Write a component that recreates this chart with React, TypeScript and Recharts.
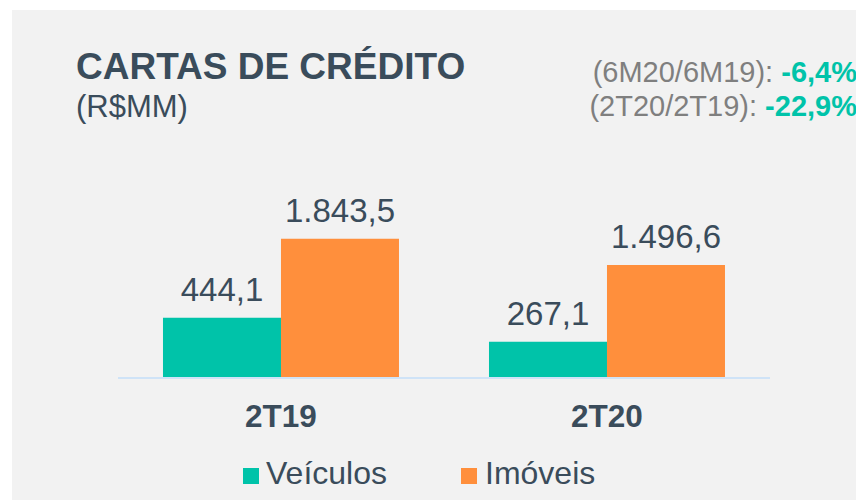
import { Bar, BarChart, LabelList, XAxis, YAxis } from 'recharts';

const categories = ['2T19', '2T20'];
const veiculos = [444.1, 267.1];
const imoveis = [1843.5, 1496.6];
const seriesNames = ['Veículos', 'Imóveis'];
const comparisons = [
  { label: '(6M20/6M19): ', value: '-6,4%' },
  { label: '(2T20/2T19): ', value: '-22,9%' },
];

const rows = categories.map((c, i) => ({ name: c, veiculos: veiculos[i], imoveis: imoveis[i] }));

const TEAL = '#00C3A9';
const ORANGE = '#FF8F3C';
const DARK = '#3A4C5B';
const FONT = '"Liberation Sans", Arial, sans-serif';

function fmt(v: number) {
  const [int, dec] = v.toFixed(1).split('.');
  return int.replace(/\B(?=(\d{3})+(?!\d))/g, '.') + ',' + dec;
}

function Tick(props: any) {
  const { x, y, payload } = props;
  return (
    <text x={x} y={y + 49} textAnchor="middle" fill={DARK} fontSize={31.5} fontWeight="bold" fontFamily={FONT}>
      {payload.value}
    </text>
  );
}

export default function App() {
  return (
    <div style={{ position: 'absolute', left: 0, top: 0, width: 856, height: 500, background: '#fff', overflow: 'hidden', fontFamily: FONT }}>
      <div style={{ position: 'absolute', left: 12, top: 10, right: 0, bottom: 0, background: '#F2F2F2' }} />
      <svg width={856} height={500} style={{ position: 'absolute', left: 0, top: 0 }}>
        <text x={76} y={79} fill={DARK} fontSize={37} fontWeight="bold" fontFamily={FONT}>CARTAS DE CRÉDITO</text>
        <text x={76} y={117} fill={DARK} fontSize={31} fontFamily={FONT}>(R$MM)</text>
        {comparisons.map((c, i) => (
          <text key={c.label} x={857} y={82 + i * 34} textAnchor="end" fontSize={29} fontFamily={FONT}>
            <tspan fill="#7F7F7F">{c.label}</tspan>
            <tspan fill={TEAL} fontWeight="bold">{c.value}</tspan>
          </text>
        ))}
      </svg>
      <div style={{ position: 'absolute', left: 0, top: 0 }}>
        <BarChart
          width={856}
          height={500}
          data={rows}
          margin={{ top: 178, right: 86, bottom: 82, left: 118 }}
          barCategoryGap="13.8%"
          barGap={0}
        >
          <XAxis
            dataKey="name"
            height={40}
            tickSize={0}
            tickMargin={0}
            tickLine={false}
            axisLine={{ stroke: '#CFE3F7', strokeWidth: 2 }}
            tick={<Tick />}
          />
          <YAxis yAxisId="v" hide domain={[0, 1474]} />
          <YAxis yAxisId="i" hide domain={[0, 2650]} orientation="right" />
          <Bar yAxisId="v" dataKey="veiculos" name={seriesNames[0]} fill={TEAL} isAnimationActive={false}>
            <LabelList dataKey="veiculos" position="top" offset={17} formatter={(v: any) => fmt(Number(v))} fill={DARK} fontSize={33} fontFamily={FONT} />
          </Bar>
          <Bar yAxisId="i" dataKey="imoveis" name={seriesNames[1]} fill={ORANGE} isAnimationActive={false}>
            <LabelList dataKey="imoveis" position="top" offset={17} formatter={(v: any) => fmt(Number(v))} fill={DARK} fontSize={33} fontFamily={FONT} />
          </Bar>
        </BarChart>
      </div>
      {[TEAL, ORANGE].map((col, i) => (
        <div key={col}>
          <div style={{ position: 'absolute', left: i === 0 ? 243 : 461, top: 468, width: 16, height: 16, background: col }} />
          <div style={{ position: 'absolute', left: i === 0 ? 266 : 485, top: 455, fontSize: 32, lineHeight: '36px', color: DARK }}>
            {seriesNames[i]}
          </div>
        </div>
      ))}
    </div>
  );
}
